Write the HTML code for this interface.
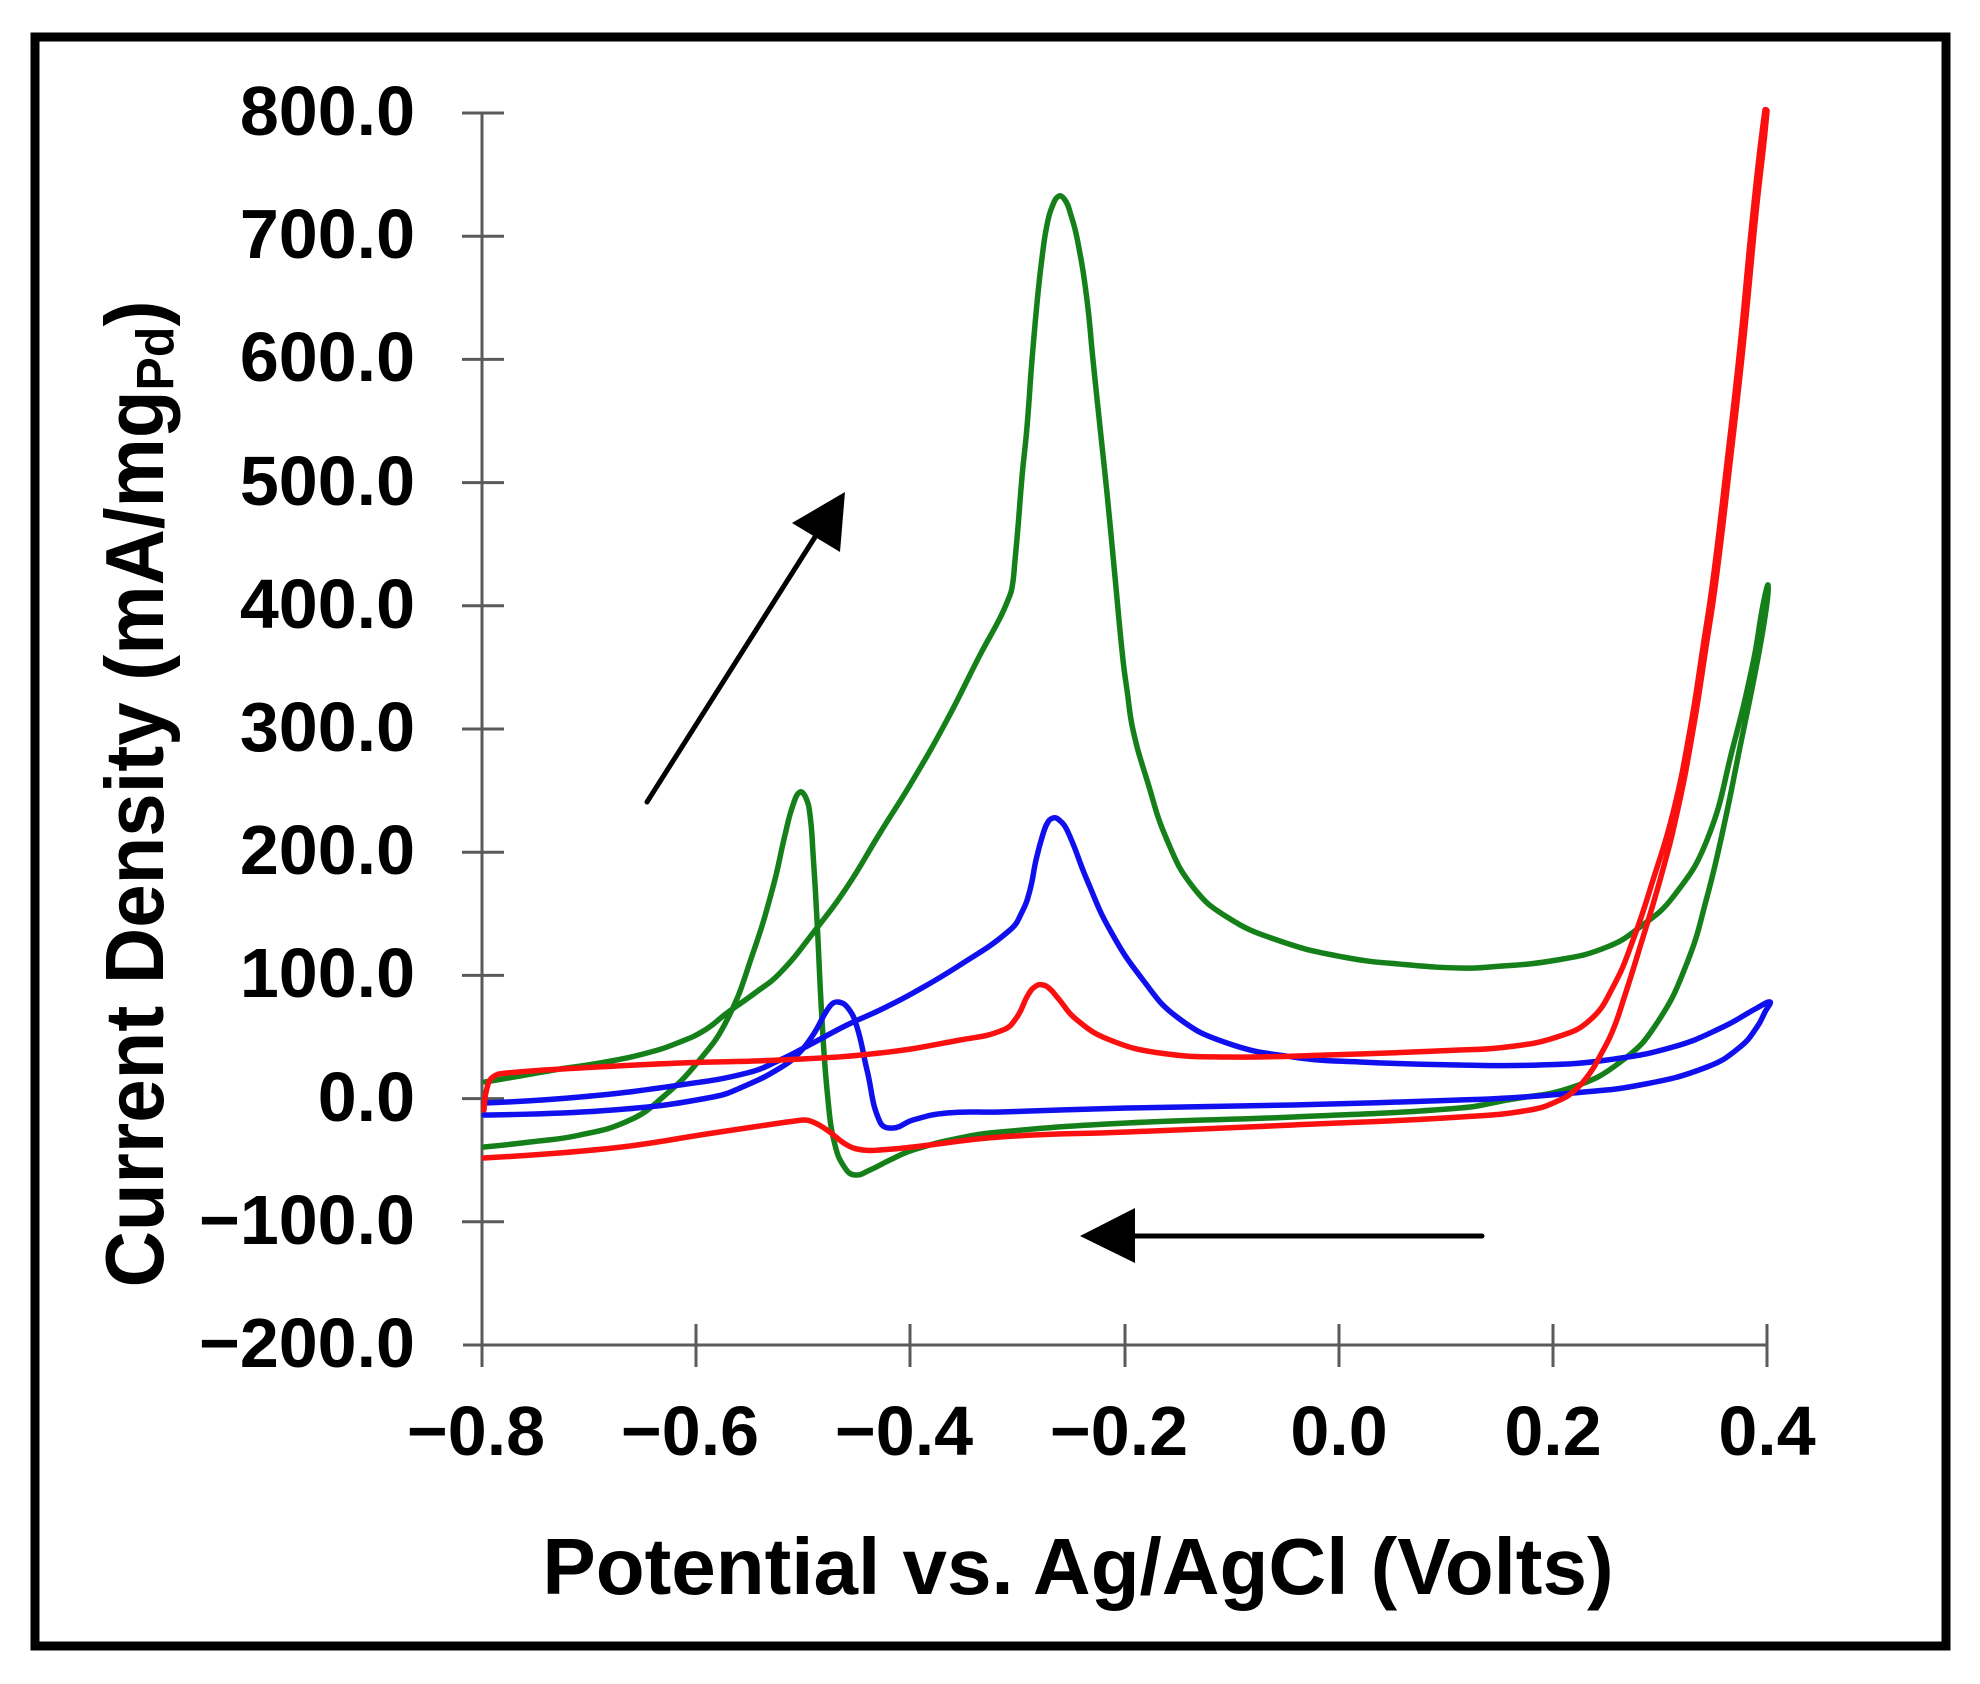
<!DOCTYPE html>
<html>
<head>
<meta charset="utf-8">
<style>
html,body{margin:0;padding:0;background:#fff;width:1980px;height:1684px;overflow:hidden}
svg{display:block}
text{font-family:"Liberation Sans",Arial,sans-serif;font-weight:bold;fill:#000}
</style>
</head>
<body>
<svg id="chart" width="1980" height="1684" viewBox="0 0 1980 1684" xmlns="http://www.w3.org/2000/svg">
<rect x="0" y="0" width="1980" height="1684" fill="#fff"/>
<!-- frame -->
<rect x="35" y="37" width="1911" height="1609" fill="none" stroke="#000" stroke-width="9"/>

<!-- axes -->
<g stroke="#5a5a5a" stroke-width="3" fill="none">
  <line x1="482" y1="113" x2="482" y2="1367"/>
  <line x1="463" y1="1345" x2="1767" y2="1345"/>
  <line x1="462" y1="113" x2="504" y2="113"/>
  <line x1="462" y1="236.2" x2="504" y2="236.2"/>
  <line x1="462" y1="359.4" x2="504" y2="359.4"/>
  <line x1="462" y1="482.6" x2="504" y2="482.6"/>
  <line x1="462" y1="605.8" x2="504" y2="605.8"/>
  <line x1="462" y1="729" x2="504" y2="729"/>
  <line x1="462" y1="852.2" x2="504" y2="852.2"/>
  <line x1="462" y1="975.4" x2="504" y2="975.4"/>
  <line x1="462" y1="1098.6" x2="504" y2="1098.6"/>
  <line x1="462" y1="1221.8" x2="504" y2="1221.8"/>
  <line x1="696" y1="1324" x2="696" y2="1367"/>
  <line x1="910" y1="1324" x2="910" y2="1367"/>
  <line x1="1125" y1="1324" x2="1125" y2="1367"/>
  <line x1="1339" y1="1324" x2="1339" y2="1367"/>
  <line x1="1553" y1="1324" x2="1553" y2="1367"/>
  <line x1="1767" y1="1324" x2="1767" y2="1367"/>
</g>

<!-- y tick labels -->
<g font-size="70" text-anchor="end">
  <text x="415" y="135">800.0</text>
  <text x="415" y="258">700.0</text>
  <text x="415" y="381">600.0</text>
  <text x="415" y="505">500.0</text>
  <text x="415" y="628">400.0</text>
  <text x="415" y="751">300.0</text>
  <text x="415" y="874">200.0</text>
  <text x="415" y="997">100.0</text>
  <text x="415" y="1121">0.0</text>
  <text x="415" y="1244">−100.0</text>
  <text x="415" y="1367">−200.0</text>
</g>

<!-- x tick labels -->
<g font-size="70" text-anchor="middle">
  <text x="476" y="1455">−0.8</text>
  <text x="690" y="1455">−0.6</text>
  <text x="904" y="1455">−0.4</text>
  <text x="1119" y="1455">−0.2</text>
  <text x="1339" y="1455">0.0</text>
  <text x="1553" y="1455">0.2</text>
  <text x="1767" y="1455">0.4</text>
</g>

<!-- axis titles -->
<text x="1078" y="1594" font-size="80" text-anchor="middle">Potential vs. Ag/AgCl (Volts)</text>
<text transform="translate(163,794) rotate(-90) scale(1,1.06)" font-size="78" text-anchor="middle">Current Density (mA/mg<tspan font-size="50" dy="10">Pd</tspan><tspan dy="-10">)</tspan></text>

<!-- curves -->
<g fill="none" stroke-width="5.5" stroke-linejoin="round" stroke-linecap="round">
  <polyline class="s" stroke="#15801a" points="
  485,1082 520,1076 560,1069 600,1063 647,1053 680,1042 705,1030 727,1013 755,993 780,973 813,933 847,887 880,833 913,780 947,720 980,655 1000,618 1008,600 1012,588 1015,560 1018,527 1022,477 1027,427 1032,360 1038,293 1043,250 1047,225 1052,207 1059,196 1065,200 1070,212 1078,243 1087,300 1093,360 1100,427 1107,493 1115,577 1123,660 1127,690 1133,730 1147,780 1167,840 1193,887 1227,917 1277,940 1343,957 1410,965 1460,968 1490,967 1557,960 1607,947 1640,927 1673,897 1707,840 1733,747 1753,663 1763,605 1768,585 1766,610 1757,663 1740,747 1723,830 1707,897 1687,963 1657,1023 1623,1060 1573,1087 1507,1100 1460,1108 1293,1117 1127,1123 1000,1132 960,1138 913,1150 890,1160 870,1170 855,1175 845,1168 835,1145 828,1100 822,1020 817,920 813,853 810,815 806,798 800,792 793,805 785,835 773,887 753,953 727,1020 697,1063 663,1097 630,1120 580,1135 530,1142 484,1147"/>
  <polyline class="s" stroke="#1010ee" points="
  484,1103 580,1097 680,1085 747,1073 780,1060 813,1043 847,1025 880,1010 913,993 960,965 1010,930 1022,912 1030,890 1036,860 1043,834 1048,822 1053,818 1058,819 1067,830 1087,880 1110,930 1143,980 1177,1017 1227,1043 1293,1057 1360,1062 1460,1065 1540,1065 1607,1060 1673,1047 1723,1027 1757,1008 1770,1002 1765,1012 1757,1027 1740,1047 1707,1067 1640,1085 1573,1093 1507,1098 1460,1100 1293,1105 1127,1108 1000,1112 947,1113 913,1120 893,1128 880,1122 867,1070 857,1027 848,1008 838,1002 830,1006 813,1035 797,1055 780,1068 747,1085 713,1097 613,1110 484,1115"/>
  <polyline class="s" stroke="#fb1010" points="
  484,1110 487,1088 493,1077 507,1073 580,1068 680,1063 780,1060 880,1053 960,1040 1003,1030 1017,1017 1028,995 1036,986 1043,985 1050,989 1057,997 1077,1020 1110,1040 1160,1053 1227,1057 1327,1055 1460,1050 1507,1047 1557,1037 1590,1020 1613,987 1633,940 1653,880 1673,813 1690,730 1703,647 1713,580 1727,463 1740,347 1753,213 1765,110 1767,111 1756,213 1743,347 1730,463 1716,580 1706,647 1693,730 1677,813 1660,880 1640,947 1625,995 1613,1030 1600,1056 1590,1073 1575,1090 1560,1100 1530,1110 1460,1117 1293,1125 1127,1132 1000,1137 913,1147 880,1150 863,1150 847,1145 827,1130 813,1122 805,1120 795,1121 780,1123 713,1133 613,1148 484,1158"/>
</g>

<!-- arrows -->
<line x1="647" y1="802" x2="815" y2="537" stroke="#000" stroke-width="5" stroke-linecap="round"/>
<polygon points="845,492 792,523 840,552" fill="#000"/>
<line x1="1482" y1="1236" x2="1130" y2="1236" stroke="#000" stroke-width="5" stroke-linecap="round"/>
<polygon points="1080,1236 1135,1208 1135,1263" fill="#000"/>
</svg>
<script>
(function(){
  var NS="http://www.w3.org/2000/svg";
  var pls=document.querySelectorAll('polyline.s');
  for(var n=0;n<pls.length;n++){
    var pl=pls[n];
    var raw=pl.getAttribute('points').trim().split(/\s+/);
    var P=[];
    for(var i=0;i<raw.length;i++){var a=raw[i].split(',');P.push([+a[0],+a[1]]);}
    if(P.length<3)continue;
    function dist(a,b){var dx=a[0]-b[0],dy=a[1]-b[1];return Math.sqrt(dx*dx+dy*dy)||0.001;}
    var k=0.45;
    var d="M"+P[0][0]+","+P[0][1];
    for(var i=0;i<P.length-1;i++){
      var p0=P[i>0?i-1:i],p1=P[i],p2=P[i+1],p3=P[i+2<P.length?i+2:i+1];
      var d01=dist(p0,p1),d12=dist(p1,p2),d23=dist(p2,p3);
      var f1=(i>0)?k*d12/(d01+d12):0;
      var f2=(i+2<P.length)?k*d12/(d12+d23):0;
      var c1x=p1[0]+(p2[0]-p0[0])*f1,c1y=p1[1]+(p2[1]-p0[1])*f1;
      var c2x=p2[0]-(p3[0]-p1[0])*f2,c2y=p2[1]-(p3[1]-p1[1])*f2;
      d+=" C"+c1x.toFixed(1)+","+c1y.toFixed(1)+" "+c2x.toFixed(1)+","+c2y.toFixed(1)+" "+p2[0]+","+p2[1];
    }
    var path=document.createElementNS(NS,'path');
    path.setAttribute('d',d);
    path.setAttribute('stroke',pl.getAttribute('stroke'));
    pl.parentNode.insertBefore(path,pl);
    pl.parentNode.removeChild(pl);
  }
})();
</script>
</body>
</html>
